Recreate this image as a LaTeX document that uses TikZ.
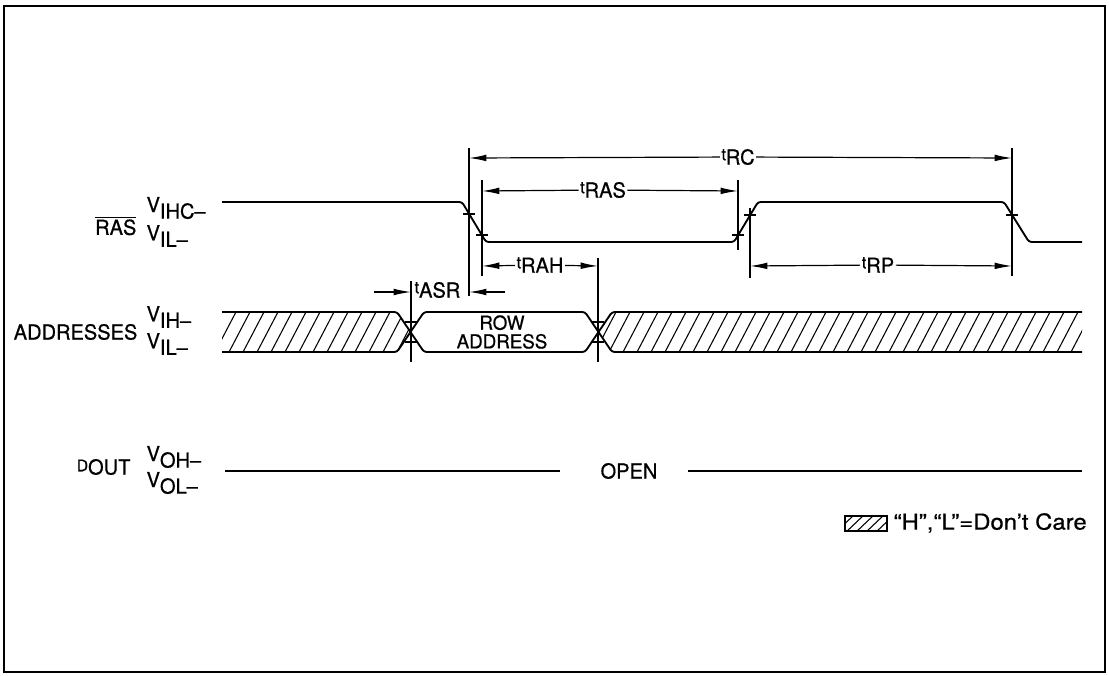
\documentclass[tikz,border=0pt]{standalone}
\usepackage{fontspec}
\setmainfont[FakeStretch=0.97,FakeBold=0.6]{TeX Gyre Heros}
\usetikzlibrary{arrows.meta}
\newcommand\tlab[1]{\raisebox{0.4ex}{\fontsize{12.5}{12.5}\selectfont t}#1}
\newcommand\vlab[1]{V\raisebox{-0.6ex}{#1}}
\begin{document}
\begin{tikzpicture}[x=0.75pt,y=-0.75pt,
  sig/.style={line width=1.4pt, line join=round},
  dimline/.style={line width=0.9pt},
  arr/.style={dimline,-{Latex[length=13pt,width=5pt]}},
  lbl/.style={font=\fontsize{15.5}{16}\selectfont, inner sep=1pt},
  tk/.style={line width=0.8pt},
  hatch/.style={line width=0.8pt}]
\useasboundingbox (0,0) rectangle (1109,675);
\draw[line width=1.8pt] (4,6) rectangle (1105,672);

% ---- signal labels
\node[lbl, anchor=east] (ras) at (138,226) {$\overline{\hbox{RAS}}$};
\node[lbl, anchor=west] (vihc) at (145,208) {\vlab{IHC–}};
\node[lbl, anchor=west] (vilr) at (145,236) {\vlab{IL–}};
\node[lbl, anchor=east] (addr) at (139,332) {ADDRESSES};
\node[lbl, anchor=west] (vih) at (145,317) {\vlab{IH–}};
\node[lbl, anchor=west] (vila) at (145,344) {\vlab{IL–}};
\node[lbl, anchor=east] (dout) at (132,467) {\raisebox{0.3ex}{\fontsize{12}{12}\selectfont D}OUT};
\node[lbl, anchor=west] (voh) at (145,457) {\vlab{OH–}};
\node[lbl, anchor=west] (vol) at (145,483) {\vlab{OL–}};

% ---- RAS waveform
\coordinate (r0) at (222,202);
\coordinate (r1) at (462,202);
\coordinate (r2) at (486,242);
\coordinate (r3) at (734,242);
\coordinate (r4) at (758,202);
\coordinate (r5) at (1004,202);
\coordinate (r6) at (1029,242);
\coordinate (r7) at (1082,242);
\draw[sig, rounded corners=2pt] (r0) -- (r1) -- (r2) -- (r3) -- (r4) -- (r5) -- (r6) -- (r7);

% ---- Address hatching
\begin{scope}
\clip (222,312) -- (397,312) -- (410.5,332) -- (397,352) -- (222,352) -- cycle;
\foreach \x in {200,214,...,420} \draw[hatch] (\x,354) -- (\x+23,310);
\end{scope}
\begin{scope}
\clip (598.5,332) -- (612,312) -- (1082,312) -- (1082,352) -- (612,352) -- cycle;
\foreach \x in {580,594,...,1090} \draw[hatch] (\x,354) -- (\x+23,310);
\end{scope}
% ---- Address waveform
\coordinate (a0) at (222,312);
\coordinate (a1) at (397,312);
\coordinate (a2) at (424,352);
\coordinate (a3) at (585,352);
\coordinate (a4) at (612,312);
\coordinate (a5) at (1082,312);
\coordinate (b0) at (222,352);
\coordinate (b1) at (397,352);
\coordinate (b2) at (424,312);
\coordinate (b3) at (585,312);
\coordinate (b4) at (612,352);
\coordinate (b5) at (1082,352);
\draw[sig, rounded corners=2pt] (a0) -- (a1) -- (a2) -- (a3) -- (a4) -- (a5);
\draw[sig, rounded corners=2pt] (b0) -- (b1) -- (b2) -- (b3) -- (b4) -- (b5);
\node[lbl, align=center, font=\fontsize{14.5}{14}\selectfont] (row) at (502,332) {ROW\\ADDRESS};

% ---- DOUT
\node[lbl] (open) at (629,471) {OPEN};
\coordinate (d0) at (225,471);
\coordinate (d1) at (560,471);
\coordinate (d2) at (688,471);
\coordinate (d3) at (1082,471);
\draw[dimline] (d0) -- (d1);
\draw[dimline] (d2) -- (d3);

% ---- reference verticals
\draw[dimline] (469,148) -- (469,296);
\draw[dimline] (482,180) -- (482,276);
\draw[dimline] (738,180) -- (738,250);
\draw[dimline] (750,208) -- (750,278);
\draw[dimline] (1012,148) -- (1012,276);
\draw[dimline] (411,281) -- (411,362);
\draw[dimline] (598,258) -- (598,362);

% ---- ticks
\foreach \p in {(469,214),(482,235),(738,235),(750,215),(1012,215),(411,322),(411,342),(598,322),(598,342)}
  \draw[tk] \p ++(-6,0) -- ++(12,0);

% ---- dimension lines
\node[lbl] (trc) at (738,157) {\tlab{RC}};
\draw[arr] (trc) -- (469,158);
\draw[arr] (trc) -- (1012,158);
\node[lbl] (tras) at (603,190) {\tlab{RAS}};
\draw[arr] (tras) -- (482,191);
\draw[arr] (tras) -- (738,191);
\node[lbl] (trah) at (540,265) {\tlab{RAH}};
\draw[arr] (trah) -- (482,266);
\draw[arr] (trah) -- (598,266);
\node[lbl] (trp) at (878,265) {\tlab{RP}};
\draw[arr] (trp) -- (750,266);
\draw[arr] (trp) -- (1012,266);
\node[lbl, anchor=west] (tasr) at (413,290) {\tlab{ASR}};
\coordinate (s0) at (374,292);
\coordinate (s1) at (505,292);
\draw[arr] (s0) -- (411,292);
\draw[arr] (s1) -- (469,292);

% ---- legend
\begin{scope}
\clip (845,516) rectangle (887,531);
\foreach \x in {825,835,...,890} \draw[hatch] (\x,533) -- (\x+20,514);
\end{scope}
\draw[dimline] (845,516) rectangle (887,531);
\node[lbl, anchor=west, font=\fontsize{16.5}{17}\selectfont] (leg) at (892,523) {\scalebox{1.12}[1]{“H”,“L”=Don’t Care}};
\end{tikzpicture}
\end{document}
